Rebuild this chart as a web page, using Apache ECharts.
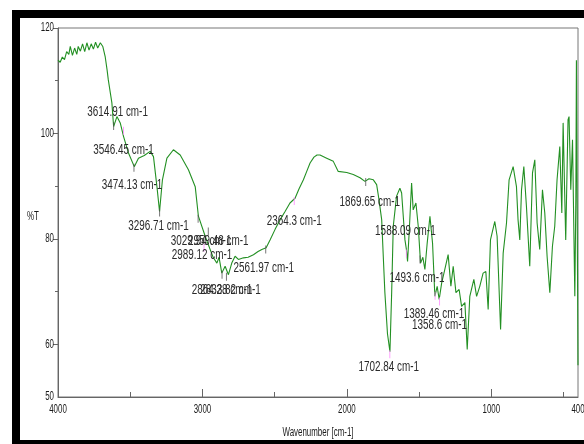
<!DOCTYPE html>
<html>
<head>
<meta charset="utf-8">
<script src="https://cdn.jsdelivr.net/npm/echarts@6/dist/echarts.min.js"></script>
<style>
  html, body { margin: 0; padding: 0; background: #ffffff; }
  #chart { width: 584px; height: 444px; }
</style>
</head>
<body>
<div id="chart"></div>
<script>
// FT-IR spectrum: wavenumber (cm-1) against transmittance (%T)
const wavenumber = [
  4000, 3985, 3970, 3955, 3940, 3925, 3915, 3900, 3885, 3870, 3860, 3845, 3830, 3815, 3800,
  3785, 3770, 3755, 3740, 3725, 3707, 3690, 3673, 3660, 3652, 3627, 3615, 3592, 3569, 3546,
  3512, 3472, 3443, 3403, 3362, 3339, 3315, 3297, 3277, 3246, 3201, 3154, 3097, 3050, 3028,
  2981, 2947, 2926, 2900, 2885, 2866, 2843, 2820, 2797, 2774, 2751, 2716, 2684, 2647, 2615,
  2589, 2559, 2532, 2497, 2463, 2428, 2394, 2359, 2331, 2301, 2278, 2255, 2228, 2207, 2186,
  2140, 2094, 2060, 2001, 1956, 1909, 1875, 1847, 1817, 1794, 1778, 1759, 1747, 1737, 1719,
  1702, 1690, 1679, 1656, 1633, 1621, 1609, 1598, 1588, 1580, 1569, 1552, 1541, 1522, 1506,
  1490, 1474, 1460, 1444, 1425, 1407, 1391, 1375, 1361, 1344, 1322, 1299, 1280, 1264, 1245,
  1223, 1206, 1183, 1167, 1149, 1121, 1102, 1080, 1057, 1038, 1022, 1006, 976, 960, 936,
  918, 895, 877, 849, 826, 815, 803, 791, 775, 757, 734, 715, 699, 683, 665,
  646, 630, 614, 595, 577, 561, 545, 526, 512, 503, 485, 469, 462, 450, 438,
  422, 415, 411, 407, 400
];
const transmittance = [
  113.9, 113.5, 114.5, 114.0, 115.5, 115.0, 116.5, 114.8, 116.2, 115.0, 116.5, 115.6, 117.0, 115.5, 117.2,
  115.8, 117.0, 116.0, 117.3, 116.2, 117.2, 116.5, 114.5, 112.0, 110.2, 105.8, 101.3, 103.2, 102.0, 99.4,
  96.3, 93.7, 95.3, 95.8, 96.6, 95.6, 89.9, 85.2, 91.2, 95.3, 96.9, 95.9, 93.1, 89.9, 84.3,
  80.5, 78.0, 76.5, 75.4, 76.5, 73.5, 74.8, 73.2, 75.4, 76.7, 76.1, 76.4, 76.5, 77.0, 77.6,
  78.0, 78.3, 79.8, 81.8, 83.6, 85.2, 86.8, 87.7, 89.5, 91.2, 92.8, 94.4, 95.5, 95.9, 95.9,
  95.3, 94.7, 92.8, 92.6, 92.2, 91.6, 90.9, 91.4, 91.2, 90.3, 87.5, 83.6, 76.0, 69.8, 62.0,
  58.6, 69.8, 82.4, 88.1, 89.6, 88.7, 84.0, 79.8, 78.0, 75.7, 81.1, 90.6, 85.5, 86.8, 82.4,
  75.4, 76.5, 74.2, 79.2, 84.3, 79.2, 69.1, 71.0, 68.5, 71.6, 74.2, 77.0, 71.0, 74.8, 69.8,
  70.4, 67.2, 67.9, 59.0, 69.1, 72.3, 69.1, 71.0, 73.5, 73.8, 66.6, 79.8, 83.3, 80.5, 62.8,
  77.3, 83.0, 91.2, 93.7, 89.9, 83.6, 79.8, 89.3, 93.7, 86.2, 74.8, 92.5, 95.0, 83.0, 78.0,
  89.3, 84.9, 76.7, 69.8, 78.6, 82.4, 91.2, 97.5, 84.9, 102.0, 79.8, 102.6, 103.2, 89.3, 98.8,
  69.1, 87.4, 113.9, 92.5, 56.0
];

// Annotated band positions and the height of each marker tick
const peakWavenumber = [
  3614.91, 3546.45, 3474.13, 3296.71, 3029.94, 2959.48, 2989.12, 2864.28, 2833.82,
  2561.97, 2364.3, 1869.65, 1588.09, 1493.6, 1389.46, 1358.6, 1702.84
];
const peakTransmittance = [
  101.4, 100.5, 93.5, 85.0, 83.8, 81.4, 78.3, 73.2, 72.8,
  78.0, 87.2, 90.8, 77.2, 76.1, 69.2, 68.1, 58.1
];
// label placement (pixels from the marker) and marker colour for each band
const labelShift = [
  [4, -14], [0, 19], [-2, 17], [-1, 13], [3, 22], [10, 9], [-2, 7], [0, 15], [4, 13],
  [-2, 18], [0, 20], [4, 20], [-1, -23], [-3, 18], [-1, 18], [0, 23], [-1, 13]
];
const markerColor = [
  '#555555', '#ff88ff', '#555555', '#555555', '#555555', '#555555', '#ff88ff', '#555555', '#555555',
  '#555555', '#ff88ff', '#555555', '#ff88ff', '#555555', '#ff88ff', '#ff88ff', '#ff88ff'
];

// axis ticks and labels
const xLabelValues = [4000, 3000, 2000, 1000, 400];
const xMajorTicks = [3000, 2000, 1000];
const xMinorTicks = [3500, 2500, 1500, 500];
const yLabelValues = [50, 60, 80, 100, 120];
const yMajorTicks = [60, 80, 100, 120];
const yMinorTicks = [70, 90, 110];

// Tall, narrow lettering: a regular sans squeezed horizontally
const textFont = '"Liberation Sans", Arial, sans-serif';
const squeeze = 0.66;

const spectrum = wavenumber.map((w, i) => [w, transmittance[i]]);
const peaks = peakWavenumber.map((w, i) => ({
  value: [w, peakTransmittance[i]],
  itemStyle: { color: markerColor[i] }
}));

const chart = echarts.init(document.getElementById('chart'), null, { renderer: 'canvas' });

const axisLineStyle = { color: '#666666', width: 1 };

const frame = [
  { type: 'rect', id: 'frameTop', shape: { x: 12, y: 10, width: 572, height: 8 }, style: { fill: '#000000' }, silent: true },
  { type: 'rect', id: 'frameLeft', shape: { x: 12, y: 10, width: 8, height: 434 }, style: { fill: '#000000' }, silent: true },
  { type: 'rect', id: 'frameBottom', shape: { x: 12, y: 440, width: 572, height: 4 }, style: { fill: '#000000' }, silent: true }
];

chart.setOption({
  backgroundColor: '#ffffff',
  animation: false,
  grid: {
    left: 58, right: 6, top: 28, bottom: 47,
    show: true, borderColor: '#777777', borderWidth: 1, backgroundColor: 'transparent'
  },
  xAxis: [
    {
      type: 'value', inverse: true, min: 400, max: 4000,
      axisLine: { show: true, lineStyle: axisLineStyle },
      axisTick: { show: true, inside: true, length: 8, customValues: xMajorTicks, lineStyle: axisLineStyle },
      axisLabel: { show: false },
      splitLine: { show: false }
    },
    {
      type: 'value', inverse: true, min: 400, max: 4000, position: 'bottom',
      axisLine: { show: false },
      axisTick: { show: true, inside: true, length: 5, customValues: xMinorTicks, lineStyle: axisLineStyle },
      axisLabel: { show: false },
      splitLine: { show: false }
    }
  ],
  yAxis: [
    {
      type: 'value', min: 50, max: 120,
      axisLine: { show: true, lineStyle: axisLineStyle },
      axisTick: { show: true, length: 5, customValues: yMajorTicks, lineStyle: axisLineStyle },
      axisLabel: { show: false },
      splitLine: { show: false }
    },
    {
      type: 'value', min: 50, max: 120, position: 'left',
      axisLine: { show: false },
      axisTick: { show: true, length: 3, customValues: yMinorTicks, lineStyle: axisLineStyle },
      axisLabel: { show: false },
      splitLine: { show: false }
    }
  ],
  series: [
    {
      name: '%T', type: 'line', data: spectrum,
      xAxisIndex: 0, yAxisIndex: 0,
      showSymbol: false, smooth: false,
      lineStyle: { color: '#239023', width: 1.1 },
      silent: true, z: 2
    },
    {
      name: 'bands', type: 'scatter', data: peaks,
      xAxisIndex: 0, yAxisIndex: 0,
      symbol: 'rect', symbolSize: [1, 8],
      silent: true, z: 3
    }
  ],
  graphic: frame
});

// Squeezed text items, placed through the axes' own scales
const coord = { xAxisIndex: 0, yAxisIndex: 0 };
function squeezedText(id, x, y, text, size, align, vAlign, fill) {
  return {
    type: 'text', id, x, y, scaleX: squeeze, scaleY: 1, silent: true, z: 10,
    style: { text, fontFamily: textFont, fontSize: size, fill, align, verticalAlign: vAlign }
  };
}

const labels = [];
const axisLeft = chart.convertToPixel(coord, [4000, 50]);
const axisX = axisLeft[0];
const axisY = axisLeft[1];

yLabelValues.forEach((v, i) => {
  const p = chart.convertToPixel(coord, [4000, v]);
  labels.push(squeezedText('ylab' + i, axisX - 4, p[1], String(v), 12, 'right', 'middle', '#1a1a1a'));
});
xLabelValues.forEach((v, i) => {
  const p = chart.convertToPixel(coord, [v, 50]);
  labels.push(squeezedText('xlab' + i, p[0], axisY + 7, String(v), 12, 'center', 'top', '#1a1a1a'));
});
const gridLeft = chart.convertToPixel(coord, [4000, 50])[0];
const gridRight = chart.convertToPixel(coord, [400, 50])[0];
labels.push(squeezedText('xname', (gridLeft + gridRight) / 2, axisY + 30, 'Wavenumber [cm-1]', 12, 'center', 'top', '#1a1a1a'));
labels.push(squeezedText('yname', 33, 217, '%T', 12, 'center', 'middle', '#1a1a1a'));

peakWavenumber.forEach((w, i) => {
  const p = chart.convertToPixel(coord, [w, peakTransmittance[i]]);
  labels.push(squeezedText('peak' + i, p[0] + labelShift[i][0], p[1] + labelShift[i][1],
    w + ' cm-1', 15, 'center', 'middle', '#2a2a2a'));
});

chart.setOption({ graphic: frame.concat(labels) });
</script>
</body>
</html>
